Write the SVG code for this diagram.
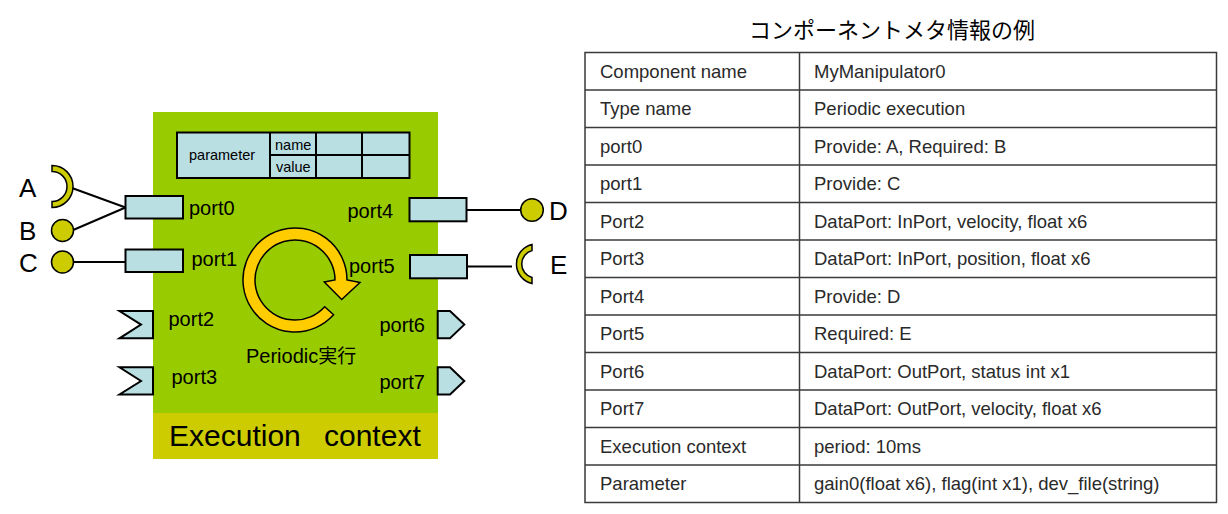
<svg xmlns="http://www.w3.org/2000/svg" width="1228" height="514" viewBox="0 0 1228 514">
<style>
.lbl{font-family:"Liberation Sans",Arial,sans-serif;font-size:20px;fill:#000}
.big{font-family:"Liberation Sans",Arial,sans-serif;font-size:26px;fill:#000}
.small{font-family:"Liberation Sans",Arial,sans-serif;font-size:14.5px;fill:#000}
.cell{font-family:"Liberation Sans",Arial,sans-serif;font-size:18.5px;fill:#2a2a2a}
.port{fill:#BADFE3;stroke:#000;stroke-width:2}
.iface{fill:#CCCC00;stroke:#000;stroke-width:1.5}
.wire{stroke:#000;stroke-width:2;fill:none}
.grid{stroke:#3a3a3a;stroke-width:1.5;fill:none}
</style>
<rect width="1228" height="514" fill="#fff"/>

<g id="component">
  <rect x="153" y="112" width="285" height="301" fill="#99CC00"/>
  <rect x="153" y="413" width="285" height="46" fill="#CCCC00"/>
  <text x="169" y="446" font-family="Liberation Sans,Arial,sans-serif" font-size="30" fill="#000"><tspan x="169">Execution</tspan><tspan x="324">context</tspan></text>
</g>

<g id="param-table">
  <rect x="177" y="132.5" width="232.5" height="45.5" fill="#BADFE3" stroke="#000" stroke-width="2"/>
  <line x1="270" y1="132.5" x2="270" y2="178" stroke="#000" stroke-width="2"/>
  <line x1="316" y1="132.5" x2="316" y2="178" stroke="#000" stroke-width="2"/>
  <line x1="362" y1="132.5" x2="362" y2="178" stroke="#000" stroke-width="2"/>
  <line x1="270" y1="155" x2="409.5" y2="155" stroke="#000" stroke-width="2"/>
  <text class="small" x="189" y="159.5">parameter</text>
  <text class="small" x="275" y="150">name</text>
  <text class="small" x="276" y="171.5">value</text>
</g>

<g id="exec-arrow">
  <path d="M333.6 314.8 A52 52 0 1 1 347 280 L360 282.5 L341.7 299.5 L324.3 282 L335 280 A40 40 0 1 0 324.7 306.8 Z" fill="#FFCC00" stroke="#000" stroke-width="1.5" stroke-linejoin="miter"/>
  <text class="lbl" x="246" y="363">Periodic<tspan font-family="Noto Sans CJK JP,sans-serif" font-size="19">実行</tspan></text>
</g>

<g id="connectors">
  <line class="wire" x1="72" y1="188" x2="125.5" y2="207.5"/>
  <line class="wire" x1="72" y1="230.5" x2="125.5" y2="207.5"/>
  <line class="wire" x1="72" y1="262" x2="125.5" y2="262"/>
  <line class="wire" x1="466.5" y1="210" x2="521" y2="210"/>
  <line class="wire" x1="467" y1="266.5" x2="512" y2="266.5"/>
</g>

<g id="port0">
  <rect class="port" x="125.5" y="196" width="57.5" height="22.5"/>
  <text class="lbl" x="189" y="215">port0</text>
</g>
<g id="port1">
  <rect class="port" x="125.5" y="249.5" width="57.5" height="22.5"/>
  <text class="lbl" x="191.5" y="266">port1</text>
</g>
<g id="port2">
  <path class="port" d="M119.5 311 L153 311 L153 338.3 L119.5 338.3 L141 324.6 Z"/>
  <text class="lbl" x="168.5" y="326">port2</text>
</g>
<g id="port3">
  <path class="port" d="M119.5 367.3 L153 367.3 L153 394.5 L119.5 394.5 L141 381 Z"/>
  <text class="lbl" x="171.5" y="383.5">port3</text>
</g>
<g id="port4">
  <rect class="port" x="409.5" y="198" width="57" height="23.3"/>
  <text class="lbl" x="347.5" y="217.5">port4</text>
</g>
<g id="port5">
  <rect class="port" x="410" y="255" width="57" height="23.3"/>
  <text class="lbl" x="349" y="273">port5</text>
</g>
<g id="port6">
  <path class="port" d="M437.7 311 L450 311 L464.3 324.6 L450 338.3 L437.7 338.3 Z"/>
  <text class="lbl" x="425" y="332" text-anchor="end">port6</text>
</g>
<g id="port7">
  <path class="port" d="M437.7 367.3 L450 367.3 L464.3 381 L450 394.5 L437.7 394.5 Z"/>
  <text class="lbl" x="425" y="389" text-anchor="end">port7</text>
</g>

<g id="iface-A">
  <path class="iface" d="M52 165.5 A21 21 0 0 1 52 207.5 L52 201.5 A15 15 0 0 0 52 171.5 Z"/>
  <text class="big" x="19" y="197">A</text>
</g>
<g id="iface-B">
  <circle class="iface" cx="62.5" cy="230.5" r="11"/>
  <text class="big" x="19" y="240">B</text>
</g>
<g id="iface-C">
  <circle class="iface" cx="62.5" cy="262" r="11"/>
  <text class="big" x="19" y="272">C</text>
</g>
<g id="iface-D">
  <circle class="iface" cx="532" cy="210" r="11.3"/>
  <text class="big" x="549" y="220">D</text>
</g>
<g id="iface-E">
  <path class="iface" d="M532 244.5 A20 20 0 0 0 532 283.5 L532 277.5 A14 14 0 0 1 532 250.5 Z"/>
  <text class="big" x="550" y="274">E</text>
</g>

<g id="meta-title">
  <text x="749" y="38" font-family="Noto Sans CJK JP,sans-serif" font-size="22" fill="#000">コンポーネントメタ情報の例</text>
</g>

<g id="meta-table">
  <rect class="grid" x="585" y="52.5" width="631.5" height="450"/>
  <line class="grid" x1="799.5" y1="52.5" x2="799.5" y2="502.5"/>
  <line class="grid" x1="585" y1="90" x2="1216.5" y2="90"/>
  <line class="grid" x1="585" y1="127.5" x2="1216.5" y2="127.5"/>
  <line class="grid" x1="585" y1="165" x2="1216.5" y2="165"/>
  <line class="grid" x1="585" y1="202.5" x2="1216.5" y2="202.5"/>
  <line class="grid" x1="585" y1="240" x2="1216.5" y2="240"/>
  <line class="grid" x1="585" y1="277.5" x2="1216.5" y2="277.5"/>
  <line class="grid" x1="585" y1="315" x2="1216.5" y2="315"/>
  <line class="grid" x1="585" y1="352.5" x2="1216.5" y2="352.5"/>
  <line class="grid" x1="585" y1="390" x2="1216.5" y2="390"/>
  <line class="grid" x1="585" y1="427.5" x2="1216.5" y2="427.5"/>
  <line class="grid" x1="585" y1="465" x2="1216.5" y2="465"/>
  <text class="cell" x="600" y="77.5">Component name</text>
  <text class="cell" x="814" y="77.5">MyManipulator0</text>
  <text class="cell" x="600" y="115">Type name</text>
  <text class="cell" x="814" y="115">Periodic execution</text>
  <text class="cell" x="600" y="152.5">port0</text>
  <text class="cell" x="814" y="152.5">Provide: A, Required: B</text>
  <text class="cell" x="600" y="190">port1</text>
  <text class="cell" x="814" y="190">Provide: C</text>
  <text class="cell" x="600" y="227.5">Port2</text>
  <text class="cell" x="814" y="227.5">DataPort: InPort, velocity, float x6</text>
  <text class="cell" x="600" y="265">Port3</text>
  <text class="cell" x="814" y="265">DataPort: InPort, position, float x6</text>
  <text class="cell" x="600" y="302.5">Port4</text>
  <text class="cell" x="814" y="302.5">Provide: D</text>
  <text class="cell" x="600" y="340">Port5</text>
  <text class="cell" x="814" y="340">Required: E</text>
  <text class="cell" x="600" y="377.5">Port6</text>
  <text class="cell" x="814" y="377.5">DataPort: OutPort, status int x1</text>
  <text class="cell" x="600" y="415">Port7</text>
  <text class="cell" x="814" y="415">DataPort: OutPort, velocity, float x6</text>
  <text class="cell" x="600" y="452.5">Execution context</text>
  <text class="cell" x="814" y="452.5">period: 10ms</text>
  <text class="cell" x="600" y="490">Parameter</text>
  <text class="cell" x="814" y="490">gain0(float x6), flag(int x1), dev_file(string)</text>
</g>
</svg>
